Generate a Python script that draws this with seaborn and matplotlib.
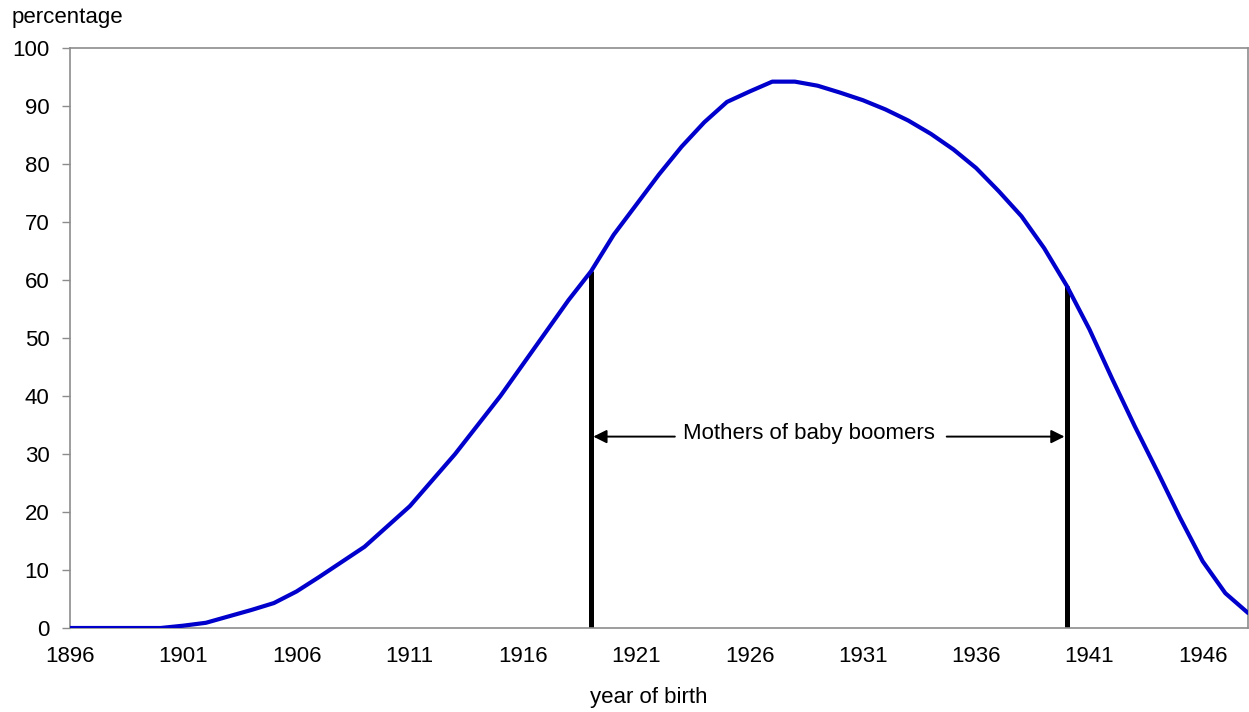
import matplotlib
matplotlib.use("Agg")
import matplotlib.pyplot as plt
import seaborn as sns
import pandas as pd

years = list(range(1896, 1949))
percentage = [0, 0, 0, 0, 0, 0.4, 0.9, 2.0, 3.1, 4.3,
              6.3, 8.8, 11.4, 14.0, 17.5, 21.0, 25.5, 30.0, 35.0, 40.0,
              45.5, 51.0, 56.5, 61.5, 67.8, 73.0, 78.2, 83.0, 87.2, 90.7,
              92.5, 94.2, 94.2, 93.5, 92.3, 91.0, 89.4, 87.5, 85.2, 82.5,
              79.3, 75.3, 71.0, 65.5, 59.0, 51.5, 43.0, 34.8, 27.0, 19.0,
              11.5, 6.0, 2.6]
xtick_years = list(range(1896, 1947, 5))
ytick_values = list(range(0, 101, 10))
boomer_years = [1919, 1940]
annotation_text = "Mothers of baby boomers"

df = pd.DataFrame({"year": years, "percentage": percentage})

sns.set_style("white")
plt.rcParams["font.family"] = ["Liberation Sans", "DejaVu Sans"]
plt.rcParams["text.color"] = "black"
plt.rcParams["xtick.color"] = "black"
plt.rcParams["ytick.color"] = "black"

fig = plt.figure(figsize=(12.49, 7.12), dpi=100)
ax = fig.add_axes([70 / 1249, 1 - 628 / 712, (1248 - 70) / 1249, (628 - 48) / 712])

sns.lineplot(data=df, x="year", y="percentage", ax=ax, color="#0000cc",
             linewidth=3.0, zorder=3)

# vertical boomer lines from 0 up to the curve
for yr in boomer_years:
    yv = percentage[years.index(yr)]
    ax.vlines(yr, 0, yv, colors="black", linewidth=3.6, zorder=2)

ax.set_xlim(years[0], years[-1])
ax.set_ylim(0, 100)
ax.set_xticks(xtick_years)
ax.set_xticklabels([str(y) for y in xtick_years])
ax.set_yticks(ytick_values)
ax.set_xlabel("")
ax.set_ylabel("")

for s in ax.spines.values():
    s.set_color("#8c8c8c")
    s.set_linewidth(1.2)

ax.tick_params(axis="y", direction="out", length=5.8, width=1.0, color="#8c8c8c",
               labelcolor="black", pad=9, labelsize=16, left=True)
ax.tick_params(axis="x", length=0, pad=13, labelsize=16, labelcolor="black")

# annotation arrows and text
arrow_y = 33.0
ax.text(1928.6, 33.6, annotation_text, ha="center", va="center", fontsize=16,
        color="black")
ax.annotate("", xy=(boomer_years[0] + 0.1, arrow_y), xytext=(1922.7, arrow_y),
            arrowprops=dict(arrowstyle="-|>", color="black", lw=1.4,
                            mutation_scale=20, shrinkA=0, shrinkB=0))
ax.annotate("", xy=(boomer_years[1] - 0.1, arrow_y), xytext=(1934.7, arrow_y),
            arrowprops=dict(arrowstyle="-|>", color="black", lw=1.4,
                            mutation_scale=20, shrinkA=0, shrinkB=0))

fig.text(12 / 1249, 1 - 17 / 712, "percentage", ha="left", va="center", fontsize=16,
         color="black")
fig.text(649 / 1249, 1 - 697 / 712, "year of birth", ha="center", va="center",
         fontsize=16, color="black")

fig.savefig("out.png", dpi=100, facecolor="white")
